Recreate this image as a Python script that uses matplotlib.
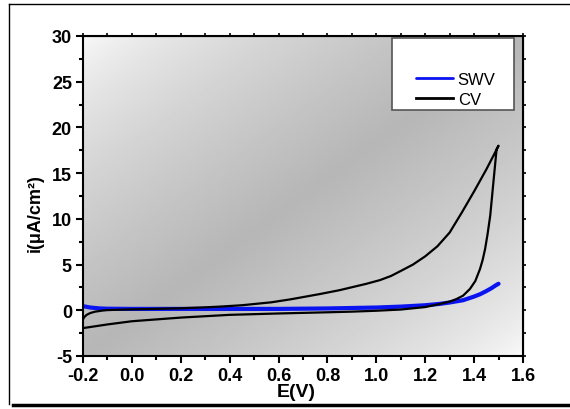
import numpy as np
import matplotlib
matplotlib.use("Agg")
import matplotlib.pyplot as plt
from matplotlib.lines import Line2D
from matplotlib.patches import Rectangle
from matplotlib.ticker import MultipleLocator

# CV loop, forward sweep (-0.2 -> 1.5 V)
cv_fwd_E = [-0.2, -0.195, -0.185, -0.17, -0.15, -0.12, -0.1, 0.0, 0.1, 0.2, 0.3, 0.36, 0.45,
            0.57, 0.65, 0.77, 0.85, 0.96, 1.015, 1.06, 1.1, 1.15, 1.2, 1.25, 1.3, 1.35, 1.4,
            1.45, 1.479, 1.5]
cv_fwd_i = [-1.0, -0.75, -0.5, -0.3, -0.15, -0.03, 0.02, 0.1, 0.15, 0.22, 0.32, 0.4, 0.55,
            0.87, 1.2, 1.78, 2.2, 2.9, 3.3, 3.75, 4.3, 5.0, 5.9, 7.0, 8.5, 10.7, 13.0,
            15.4, 16.9, 18.0]
# CV loop, reverse sweep (1.5 -> -0.2 V)
cv_rev_E = [1.5, 1.492, 1.479, 1.466, 1.455, 1.445, 1.435, 1.424, 1.405, 1.383, 1.355, 1.329,
            1.3, 1.26, 1.2, 1.1, 1.0, 0.9, 0.8, 0.6, 0.4, 0.2, 0.1, 0.0, -0.1, -0.2]
cv_rev_i = [18.0, 17.6, 14.0, 10.35, 8.3, 6.7, 5.5, 4.5, 3.2, 2.33, 1.6, 1.24,
            0.95, 0.69, 0.35, 0.08, -0.05, -0.15, -0.22, -0.35, -0.5, -0.8, -1.0, -1.2, -1.55, -1.95]
# SWV
swv_E = [-0.2, -0.17, -0.13, -0.1, 0.0, 0.2, 0.4, 0.6, 0.8, 1.0, 1.1, 1.2, 1.26, 1.3,
         1.355, 1.4, 1.424, 1.45, 1.47, 1.49, 1.5]
swv_i = [0.45, 0.3, 0.2, 0.17, 0.15, 0.15, 0.15, 0.15, 0.2, 0.3, 0.4, 0.55, 0.7, 0.85,
         1.1, 1.5, 1.75, 2.1, 2.4, 2.75, 2.9]

plt.rcParams['font.family'] = ['Liberation Sans', 'DejaVu Sans']
plt.rcParams['axes.unicode_minus'] = False

fig = plt.figure(figsize=(5.7, 4.1), dpi=100)
ax = fig.add_axes([0.1456, 0.1293, 0.7719, 0.7805])

# background: reflected diagonal gradient, white corners top-left / bottom-right
u, v = np.meshgrid(np.linspace(0, 1, 300), np.linspace(1, 0, 300))
t = (u + (1 - v)) / 2
shade = 0.985 - 0.27 * (1 - np.abs(2 * t - 1)) ** 0.7
ax.imshow(shade, cmap='gray', vmin=0, vmax=1, extent=(0, 1, 0, 1), transform=ax.transAxes,
          aspect='auto', zorder=0, interpolation='bilinear')

ax.plot(swv_E, swv_i, color='#0a14f0', lw=3.0, solid_capstyle='round', zorder=2, label='SWV')
ax.plot(cv_fwd_E + cv_rev_E, cv_fwd_i + cv_rev_i, color='black', lw=1.6, zorder=3, label='CV')

ax.set_xlim(-0.2, 1.6)
ax.set_ylim(-5, 30)
ax.xaxis.set_major_locator(MultipleLocator(0.2))
ax.xaxis.set_minor_locator(MultipleLocator(0.1))
ax.yaxis.set_major_locator(MultipleLocator(5))
ax.yaxis.set_minor_locator(MultipleLocator(2.5))
ax.set_xticks(np.arange(-0.2, 1.61, 0.2))
ax.set_xticklabels(['-0.2', '0.0', '0.2', '0.4', '0.6', '0.8', '1.0', '1.2', '1.4', '1.6'])
ax.tick_params(which='major', direction='out', length=5, width=1.5, labelsize=13, pad=3)
ax.tick_params(which='minor', direction='out', length=3, width=1.5)
for lab in ax.get_xticklabels() + ax.get_yticklabels():
    lab.set_fontweight('bold')
for s in ax.spines.values():
    s.set_linewidth(1.5)

# short mirrored ticks on top and right
top = ax.secondary_xaxis('top')
top.set_xticks(np.arange(-0.2, 1.61, 0.1))
top.tick_params(direction='out', length=2.5, width=1.2, labeltop=False)
right = ax.secondary_yaxis('right')
right.set_yticks(np.arange(-5, 30.1, 2.5))
right.tick_params(direction='out', length=2.5, width=1.2, labelright=False)

ax.set_xlabel('E(V)', fontsize=14, fontweight='bold')
ax.xaxis.set_label_coords(0.485, -0.085)
ax.set_ylabel('i(μA/cm²)', fontsize=13, fontweight='bold')
ax.yaxis.set_label_coords(-0.09, 0.45)

# legend frame, then entries near its bottom
ax.add_patch(Rectangle((0.702, 0.769), 0.278, 0.225, transform=ax.transAxes,
                       facecolor='white', edgecolor='#555555', lw=1.2, zorder=4))
leg = ax.legend(loc='upper left', bbox_to_anchor=(0.757, 0.888), frameon=False,
                borderpad=0, borderaxespad=0, handlelength=2.2, handletextpad=0.3,
                labelspacing=0.3, fontsize=12)
leg.set_zorder(5)
for h in leg.legend_handles:
    h.set_linewidth(2.0)

# outer frame of the picture
fig.add_artist(Line2D([9 / 570, 1], [1 - 5 / 410, 1 - 5 / 410], color='black', lw=1.0))
fig.add_artist(Line2D([9 / 570, 9 / 570], [1 - 5 / 410, 1 - 405 / 410], color='black', lw=1.0))
fig.add_artist(Line2D([13 / 570, 1], [1 - 406 / 410, 1 - 406 / 410], color='black', lw=2.5))

fig.savefig('out.png', dpi=100)
